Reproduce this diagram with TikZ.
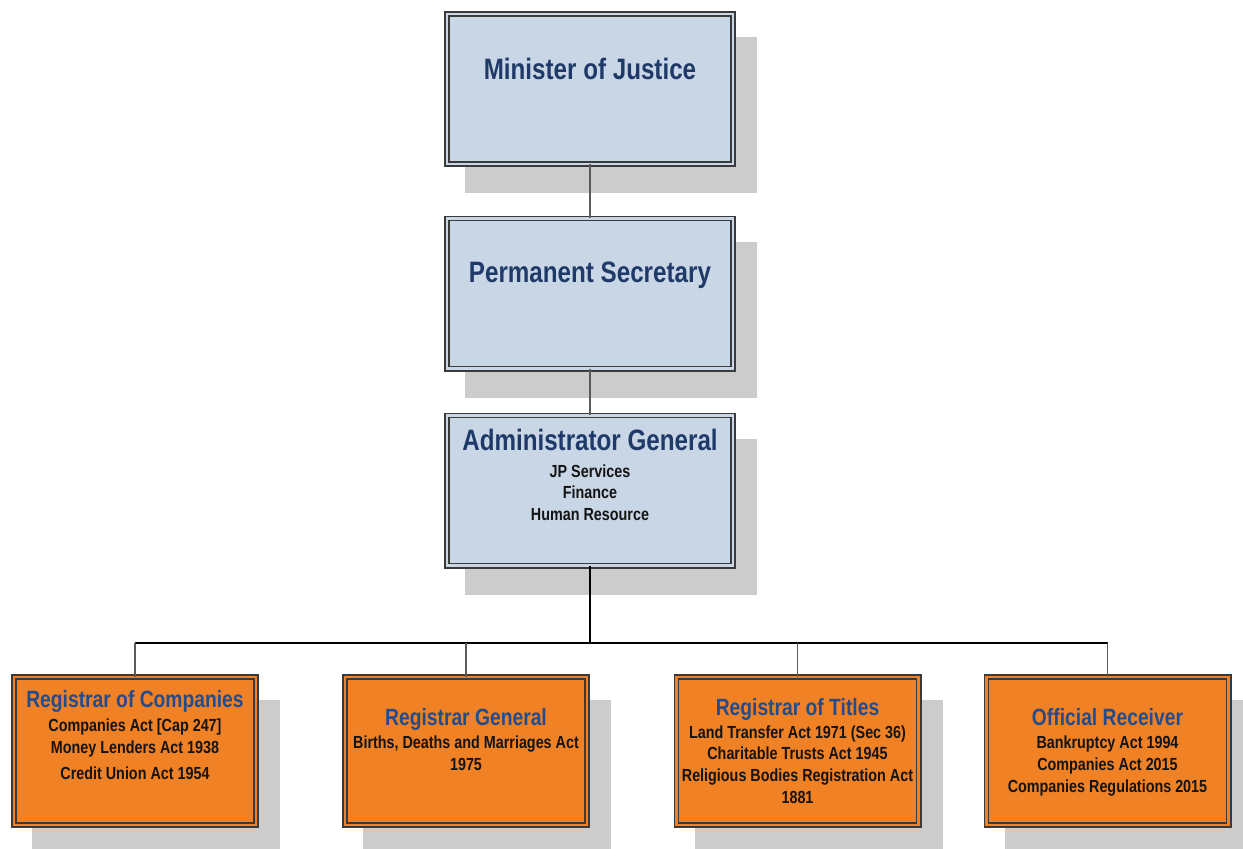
\documentclass[tikz,border=0pt]{standalone}
\usepackage{fontspec}
\setmainfont{Liberation Sans}[FakeStretch=0.82]
\usetikzlibrary{backgrounds}
\definecolor{boxblue}{HTML}{C9D6E6}
\definecolor{boxorange}{HTML}{F08125}
\definecolor{rim}{HTML}{3A3A3A}
\definecolor{shadowc}{HTML}{CCCCCC}
\definecolor{navy}{HTML}{1F3A68}
\definecolor{midblue}{HTML}{244C8C}
\definecolor{ink}{HTML}{141414}
\definecolor{connc}{HTML}{5A5A5A}
\tikzset{
  orgbox/.style={rectangle, draw=rim, line width=1.7pt, double=#1, double distance=2.4pt,
    fill=#1, outer sep=0pt, inner sep=0pt},
  topbox/.style={orgbox=boxblue, minimum width=286.2pt, minimum height=150.2pt},
  lowbox/.style={orgbox=boxorange, minimum width=242.2pt, minimum height=148.2pt},
  bigtitle/.style={anchor=base, inner sep=0pt, text=navy, font=\bfseries\fontsize{29.5}{34}\selectfont},
  smalltitle/.style={anchor=base, inner sep=0pt, text=midblue, font=\bfseries\fontsize{23.5}{28}\selectfont},
  bodyline/.style={anchor=base, inner sep=0pt, text=ink, font=\bfseries\fontsize{17.5}{21}\selectfont},
  conn/.style={draw=connc, line width=1.6pt},
  thickconn/.style={draw=black, line width=2.4pt},
  barconn/.style={draw=black, line width=1.3pt},
  dropconn/.style={draw=connc, line width=1.5pt},
}
\newcommand\shadowof[1]{\fill[shadowc] ([shift={(18.1,23.1)}]#1.north west) rectangle ([shift={(23.9,28.9)}]#1.south east);}
\begin{document}
\begin{tikzpicture}[x=1pt,y=-1pt]
\useasboundingbox (0,0) rectangle (1243,849);
% boxes
\node[topbox] (mj) at (590,89) {};
\node[topbox] (ps) at (590,293.5) {};
\node[topbox] (ag) at (590,490.5) {};
\node[lowbox] (rc) at (135,751) {};
\node[lowbox] (rg) at (466,751) {};
\node[lowbox] (rt) at (797.5,751) {};
\node[lowbox] (or) at (1107.5,751) {};
% shadows and background
\begin{scope}[on background layer]
\fill[white] (0,0) rectangle (1243,849);
\shadowof{mj}\shadowof{ps}\shadowof{ag}
\shadowof{rc}\shadowof{rg}\shadowof{rt}\shadowof{or}
\end{scope}
% connectors
\coordinate (j) at (590,643);
\draw[conn] (mj.south) -- (ps.north);
\draw[conn] (ps.south) -- (ag.north);
\draw[thickconn] (ag.south) -- (j);
\draw[barconn] (rc.north |- j) -- (or.north |- j);
\draw[dropconn] (rc.north |- j) -- (rc.north);
\draw[dropconn] (rg.north |- j) -- (rg.north);
\draw[dropconn] (rt.north |- j) -- (rt.north);
\draw[dropconn] (or.north |- j) -- (or.north);
% texts
\node[bigtitle] (mjt) at (590,79) {Minister of Justice};
\node[bigtitle] (pst) at (590,282) {Permanent Secretary};
\node[bigtitle] (agt) at (590,450) {Administrator General};
\node[bodyline] (ag1) at (590,477) {JP Services};
\node[bodyline] (ag2) at (590,498.5) {Finance};
\node[bodyline] (ag3) at (590,520) {Human Resource};
\node[smalltitle] (rct) at (135,707) {Registrar of Companies};
\node[bodyline] (rc1) at (135,731) {Companies Act [Cap 247]};
\node[bodyline] (rc2) at (135,753) {Money Lenders Act 1938};
\node[bodyline] (rc3) at (135,779) {Credit Union Act 1954};
\node[smalltitle] (rgt) at (466,725) {Registrar General};
\node[bodyline] (rg1) at (466,748) {Births, Deaths and Marriages Act};
\node[bodyline] (rg2) at (466,770) {1975};
\node[smalltitle] (rtt) at (797.5,715) {Registrar of Titles};
\node[bodyline] (rt1) at (797.5,738) {Land Transfer Act 1971 (Sec 36)};
\node[bodyline] (rt2) at (797.5,759.5) {Charitable Trusts Act 1945};
\node[bodyline] (rt3) at (797.5,781) {Religious Bodies Registration Act};
\node[bodyline] (rt4) at (797.5,803) {1881};
\node[smalltitle] (ort) at (1107.5,725) {Official Receiver};
\node[bodyline] (or1) at (1107.5,748) {Bankruptcy Act 1994};
\node[bodyline] (or2) at (1107.5,770) {Companies Act 2015};
\node[bodyline] (or3) at (1107.5,792) {Companies Regulations 2015};
\end{tikzpicture}
\end{document}
